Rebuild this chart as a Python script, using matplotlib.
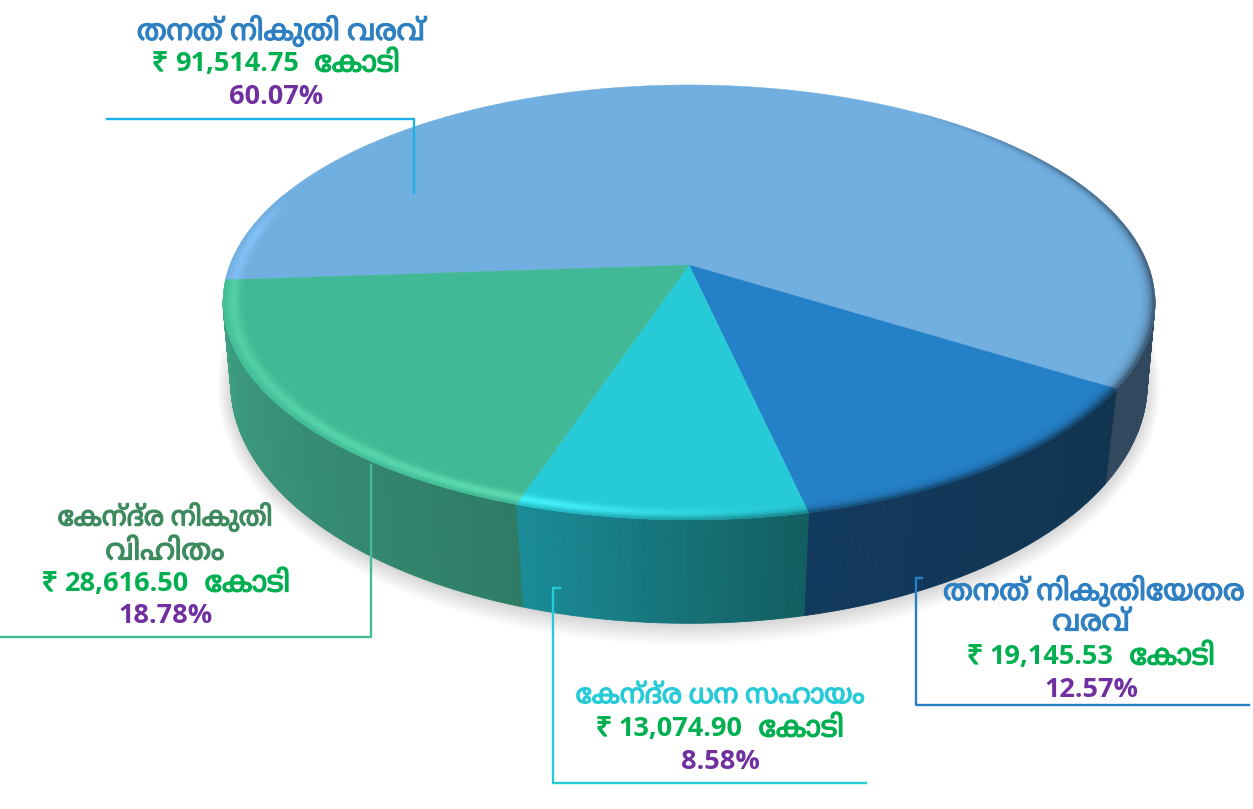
import re
import numpy as np
import matplotlib
matplotlib.use('Agg')
import matplotlib.pyplot as plt
import matplotlib.patheffects as pe

plt.rcParams['font.family'] = ['Open Sans', 'Noto Sans Malayalam', 'DejaVu Sans']

# revenue parts, in crore, clockwise from the left edge of the pie
names = ['തനത് നികുതി വരവ്', 'തനത് നികുതിയേതര വരവ്', 'കേന്ദ്ര ധന സഹായം', 'കേന്ദ്ര നികുതി വിഹിതം']
values = [91514.75, 19145.53, 13074.90, 28616.50]
amounts = ['91,514.75', '19,145.53', '13,074.90', '28,616.50']
rupee = '₹'
crore = 'കോടി'
shares = ['60.07%', '12.57%', '8.58%', '18.78%']

top_colors = ['#71afe0', '#2480c7', '#27cbd8', '#41b996']
# colour of the side wall at the high / low angle end of each slice
side_colors = [('#31495f', '#31495f'), ('#10344f', '#123a5e'), ('#125e60', '#1a8c98'), ('#2e7c66', '#3fa082')]
# what the rim brightens towards on each slice
glow_colors = ['#8cc8ff', '#2480c7', '#45f5ff', '#5fe0b4']
line_colors = ['#1cb0e8', '#2580c6', '#27cbd8', '#45bb97']
start_angle = 184.0


def top_edge(theta, r=1.0):
    # circle seen in perspective, the centre lands on the apex of the slices
    u, v = r * np.cos(theta), r * np.sin(theta)
    w = 1 + 0.172 * v
    return 689 + 459 * u / w, 265 - 211 * v / w


def bottom_edge(theta):
    u, v = np.cos(theta), np.sin(theta)
    w = 1 + 0.15 * v
    return 689 + 453 * u / w, 348 - 234 * v / w


def mix(c1, c2, t):
    a = np.array(matplotlib.colors.to_rgb(c1))
    b = np.array(matplotlib.colors.to_rgb(c2))
    return tuple(a + (b - a) * t)


def visual(s):
    # matplotlib does no shaping, so vowel signs that sit left of their consonant are moved there
    s = re.sub('([\u0d15-\u0d39])\u0d47', '\u0d47\\1', s)
    s = re.sub('([\u0d15-\u0d39])\u0d4b', '\u0d47\\1\u0d3e', s)
    return s


fig = plt.figure(figsize=(12.53, 8.09), dpi=100)
ax = fig.add_axes([0, 0, 1, 1])
ax.set_xlim(0, 1253)
ax.set_ylim(809, 0)
ax.axis('off')

# soft shadow under the pie
t = np.linspace(0, 2 * np.pi, 300)
for d in np.linspace(20, 0, 20):
    ax.fill(689 + (458 + d * 0.7) * np.cos(t), 387 + (238 + d) * np.sin(t),
            color='k', alpha=0.0065, lw=0, zorder=1)

fracs = np.array(values) / sum(values)
edges = start_angle - np.concatenate([[0], np.cumsum(fracs)]) * 360

# side wall, in thin strips so the shade can run along it
for i in range(4):
    hi, lo = edges[i], edges[i + 1]
    if i == 0:
        hi = -8.0
    if i == 3:
        lo = -171.0
    steps = np.linspace(hi, lo, int(abs(hi - lo) * 2) + 2)
    for j in range(len(steps) - 1):
        th = np.radians(steps[j:j + 2])
        xt, yt = top_edge(th)
        xb, yb = bottom_edge(th)
        c = mix(side_colors[i][0], side_colors[i][1], j / max(len(steps) - 2, 1))
        ax.fill(np.r_[xt, xb[::-1]], np.r_[yt, yb[::-1]], fc=c, ec=c, lw=0.6, zorder=2)

# top surface
for i in range(4):
    th = np.radians(np.linspace(edges[i], edges[i + 1], 400))
    x, y = top_edge(th)
    ax.fill(np.r_[689, x], np.r_[265, y], fc=top_colors[i], ec=top_colors[i], lw=0.3, zorder=3)

# bevel along the rim: light on the left and front, dark on the right
dark_at = [-200, -115, -100, -78, -40, -10, 30, 55, 160]
dark_val = [0, 0, 0.25, 0.6, 0.75, 0.8, 0.55, 0, 0]
light_at = [-200, -190, -176, -150, -120, -105, -90, -78, 160]
light_val = [0, 0.7, 0.6, 0.6, 0.8, 1.0, 0.4, 0, 0]
rings = np.linspace(0.95, 1.0, 12)
for i in range(4):
    steps = np.linspace(edges[i], edges[i + 1], int(abs(edges[i] - edges[i + 1]) * 1.5) + 2)
    for j in range(len(steps) - 1):
        th = np.radians(steps[j:j + 2])
        a = (steps[j] + 200) % 360 - 200
        dk = np.interp(a, dark_at, dark_val)
        lt = np.interp(a, light_at, light_val)
        if dk == 0 and lt == 0:
            continue
        for k in range(len(rings) - 1):
            s = (k + 0.5) / (len(rings) - 1)
            c = mix(top_colors[i], glow_colors[i], lt * np.exp(-((s - 0.6) / 0.28) ** 2))
            c = mix(c, side_colors[i][0], min(1.0, dk * 1.2 * s ** 4))
            x1, y1 = top_edge(th, rings[k])
            x2, y2 = top_edge(th, rings[k + 1])
            ax.fill(np.r_[x1, x2[::-1]], np.r_[y1, y2[::-1]], fc=c, ec=c, lw=0.4, zorder=4)

# leader lines
ax.plot([107, 414, 414], [119, 119, 193], color=line_colors[0], lw=1.7, zorder=5)
ax.plot([1249, 916, 916, 922], [705, 705, 578, 578], color=line_colors[1], lw=1.7, zorder=5)
ax.plot([866, 553, 553, 560], [783, 783, 588, 588], color=line_colors[2], lw=1.7, zorder=5)
ax.plot([0, 371, 371], [637, 637, 465], color=line_colors[3], lw=1.7, zorder=5)

# labels
name_blue = '#2f80c2'
name_cyan = '#27cbd8'
name_green = '#3d8a5e'
money = '#00b050'
pct = '#7030a0'
renderer = fig.canvas.get_renderer()


def heavy(txt, c, w=0.9):
    # the Malayalam font only comes in regular, so thicken it
    txt.set_path_effects([pe.withStroke(linewidth=w, foreground=c)])


def name_line(x, y, s, c, size=21):
    txt = ax.text(x, y, visual(s), color=c, fontsize=size, ha='center', va='center', zorder=6)
    heavy(txt, c)


def share_line(x, y, s):
    ax.text(x, y, s, color=pct, fontsize=19.5, fontweight='bold', ha='center', va='center', zorder=6)


def money_line(x, y, amount):
    # rupee sign, number and crore word go side by side as three texts
    parts = [
        ax.text(0, y, rupee, color=money, fontsize=19.5, fontweight='bold', va='center', zorder=6),
        ax.text(0, y, amount, color=money, fontsize=19.5, fontweight='bold', va='center', zorder=6),
        ax.text(0, y, visual(crore), color=money, fontsize=21, va='center', zorder=6),
    ]
    heavy(parts[0], money)
    heavy(parts[2], money)
    gaps = [7, 16, 0]
    widths = [p.get_window_extent(renderer).width for p in parts]
    pos = x - (sum(widths) + sum(gaps)) / 2
    for p, w, g in zip(parts, widths, gaps):
        p.set_x(pos)
        pos += w + g


name_line(281, 31, names[0], name_blue)
money_line(276, 64, amounts[0])
share_line(276, 97, shares[0])

name_line(1094, 591, 'തനത് നികുതിയേതര', name_blue)
name_line(1091, 623, 'വരവ്', name_blue)
money_line(1091, 657, amounts[1])
share_line(1091, 690, shares[1])

name_line(720, 696, names[2], name_cyan, size=19.5)
money_line(720, 729, amounts[2])
share_line(720, 762, shares[2])

name_line(165, 518, 'കേന്ദ്ര നികുതി', name_green, size=19.5)
name_line(165, 552, 'വിഹിതം', name_green)
money_line(166, 584, amounts[3])
share_line(166, 616, shares[3])

fig.savefig('out.png', dpi=100)
